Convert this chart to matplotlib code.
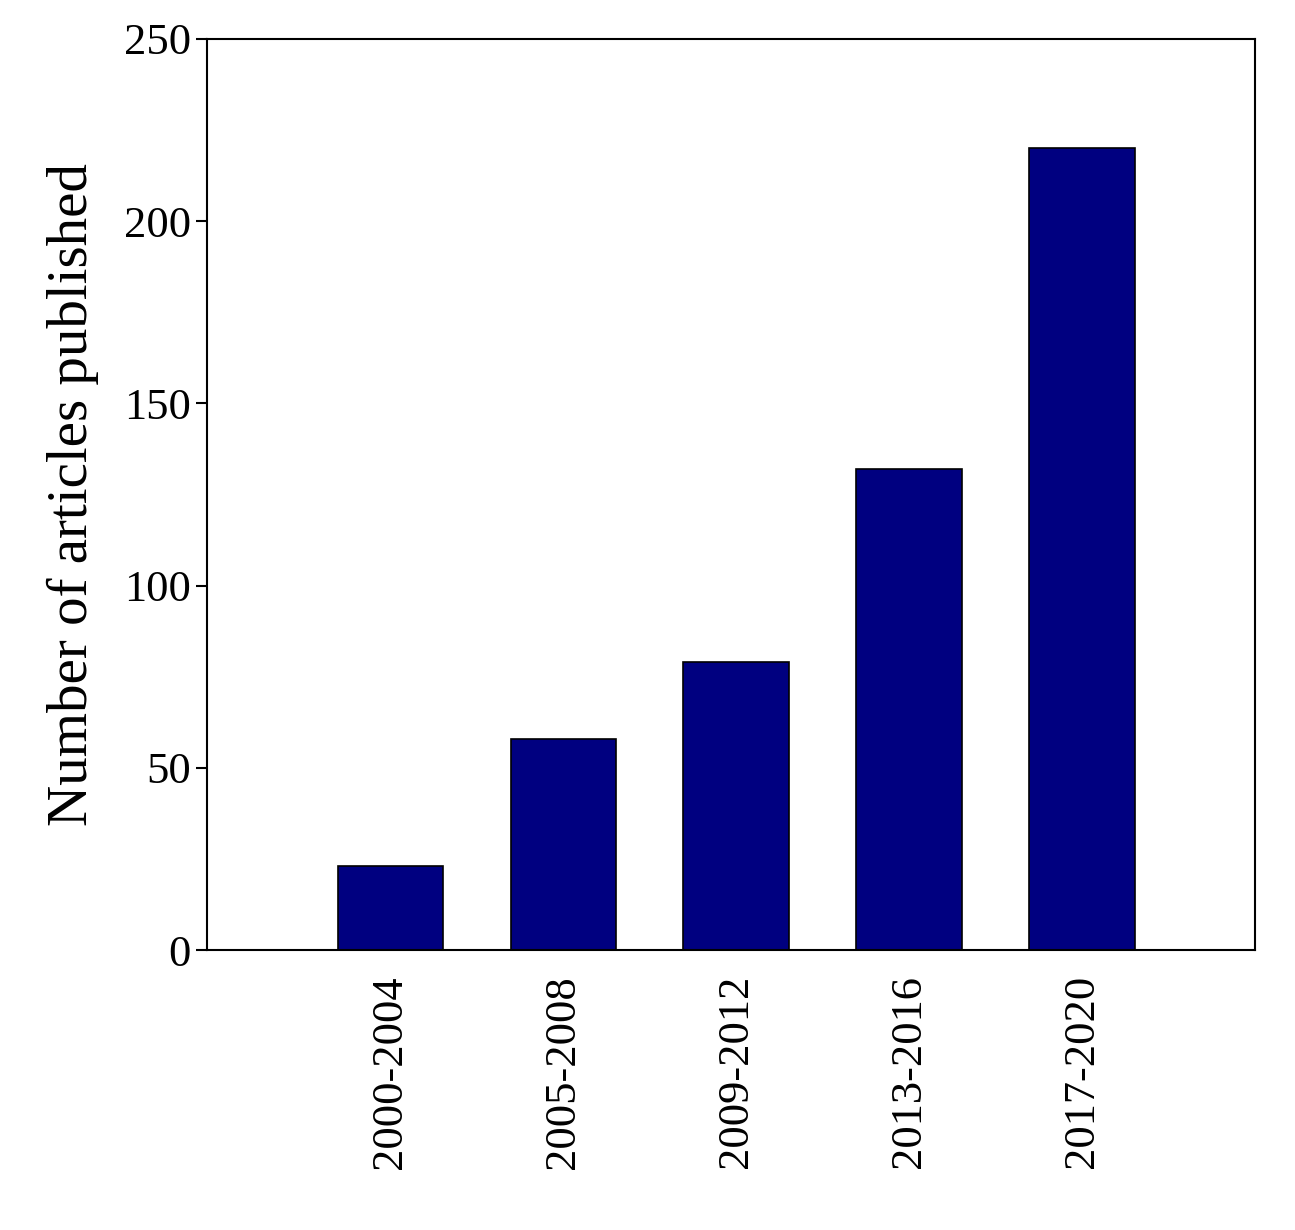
import matplotlib
matplotlib.use("Agg")
import matplotlib.pyplot as plt

categories = ["2000-2004", "2005-2008", "2009-2012", "2013-2016", "2017-2020"]
values = [23, 58, 79, 132, 220]

plt.rcParams['font.family'] = ['Liberation Serif', 'DejaVu Serif']
fig = plt.figure(figsize=(12.95, 12.30), dpi=100)
ax = fig.add_axes([207/1295, 1-950/1230, (1255-207)/1295, (950-39)/1230])
x = list(range(len(categories)))
ax.bar(x, values, width=0.61, color="#000080", edgecolor="black", linewidth=1.2)
ax.set_xlim(-1.06, 5.0)
ax.set_ylim(0, 250)
ax.set_yticks([0, 50, 100, 150, 200, 250])
ax.set_xticks(x)
ax.set_xticklabels(categories, rotation=90)
ax.tick_params(axis='y', labelsize=32, direction='out', length=8, width=1.5)
ax.tick_params(axis='x', labelsize=32, length=0, pad=18)
for s in ax.spines.values():
    s.set_linewidth(1.5)
ax.set_ylabel("Number of articles published", fontsize=41, labelpad=18)
fig.savefig("out.png", dpi=100)
